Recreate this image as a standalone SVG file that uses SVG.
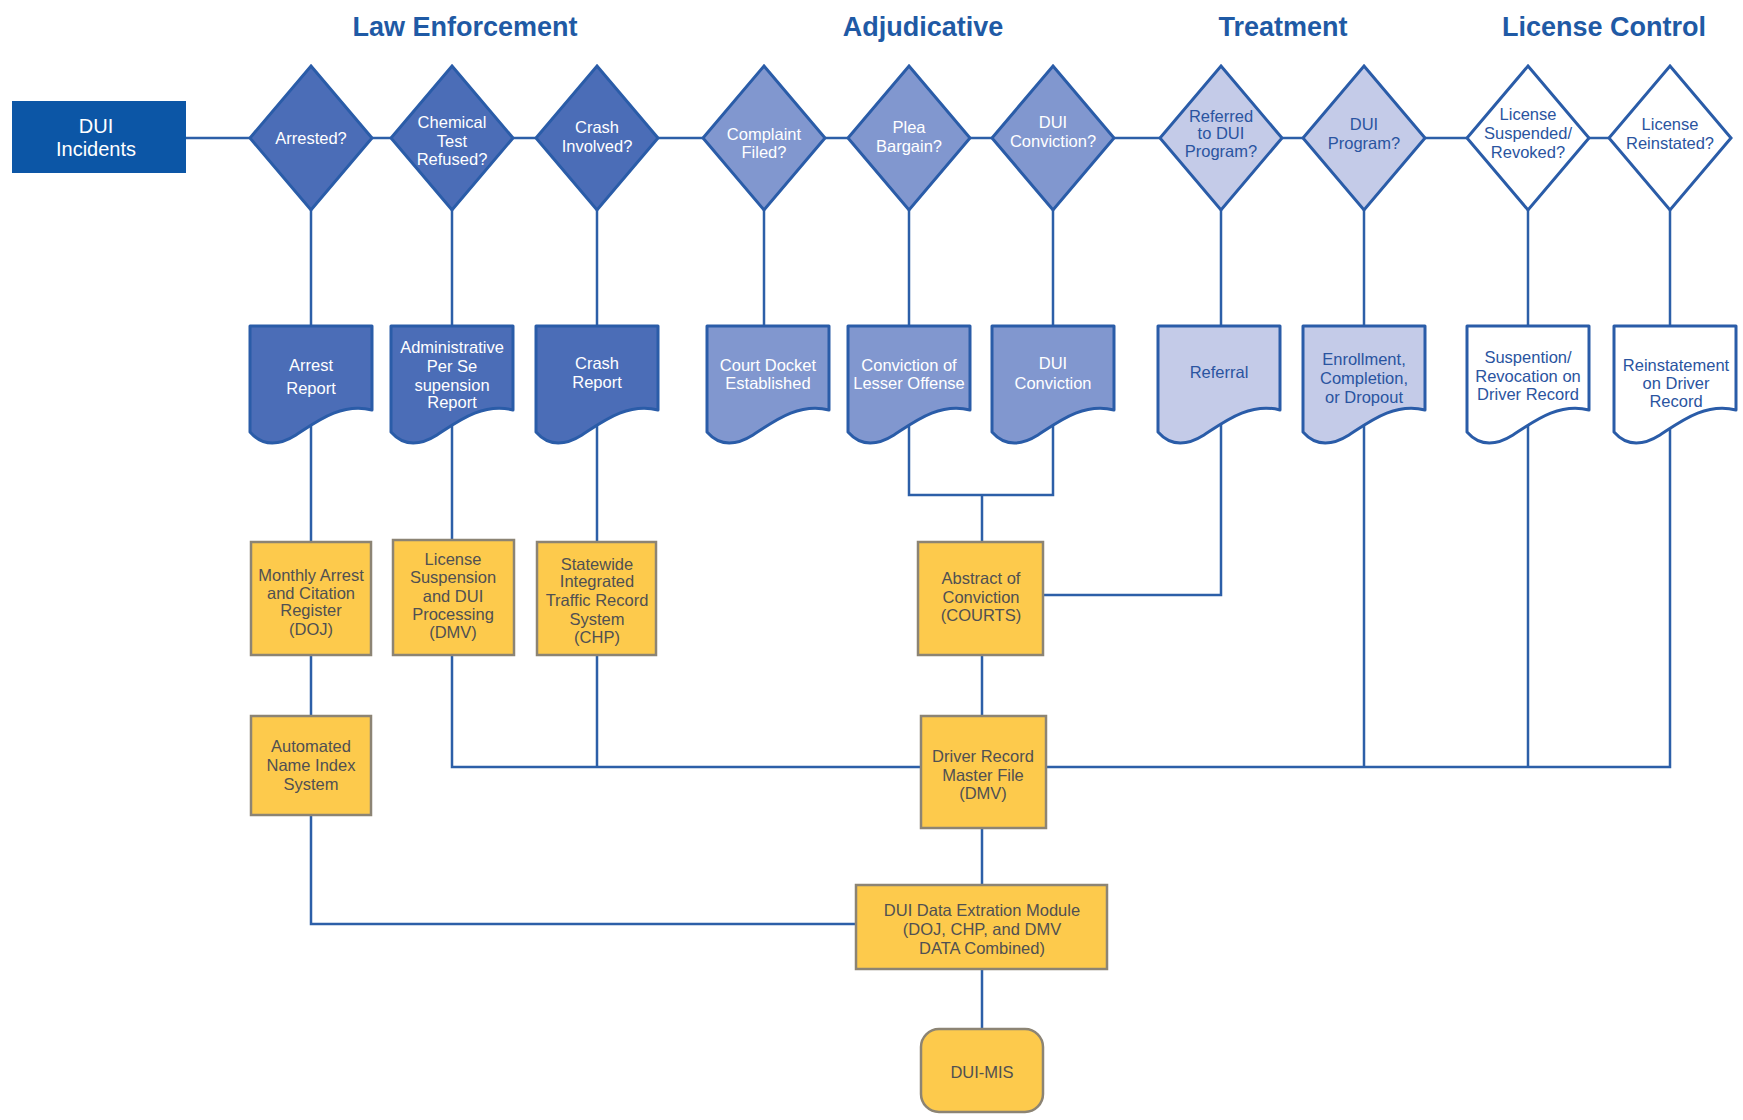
<svg xmlns="http://www.w3.org/2000/svg" width="1743" height="1120" viewBox="0 0 1743 1120">
<style>
.hdr{font-family:"Liberation Sans",Arial,sans-serif;font-weight:bold;font-size:27px;fill:#1f5aa5;text-anchor:middle}
.t{font-family:"Liberation Sans",Arial,sans-serif;font-size:16.5px;text-anchor:middle}
.w{fill:#ffffff}
.b{fill:#2a54a0}
.y{fill:#505052}
.dia{stroke:#2a5ca8;stroke-width:3}
.doc{stroke:#2a5ca8;stroke-width:3;stroke-linejoin:round}
.box{fill:#fdca4c;stroke:#8c8474;stroke-width:2.5}
.c1{fill:#4b6db7}
.c2{fill:#8197cf}
.c3{fill:#c4cbe8}
.c4{fill:#ffffff}
.conn{fill:none;stroke:#2c5fa8;stroke-width:2.5}
</style>
<defs>
<polygon id="dm" points="0,-72 61,0 0,72 -61,0"/>
<path id="dc" d="M0 0 H122 V84 C92 76 66 96 46 109 C30 119 14 122 0 106 Z"/>
</defs>
<rect width="1743" height="1120" fill="#ffffff"/>
<g id="headers">
<text class="hdr" x="465" y="36">Law Enforcement</text>
<text class="hdr" x="923" y="36">Adjudicative</text>
<text class="hdr" x="1283" y="36">Treatment</text>
<text class="hdr" x="1604" y="36">License Control</text>
</g>
<g id="connectors" class="conn">
<path d="M186 138 H1670"/>
<path d="M311 210 V326 M452 210 V326 M597 210 V326 M764 210 V326 M909 210 V326 M1053 210 V326 M1221 210 V326 M1364 210 V326 M1528 210 V326 M1670 210 V326"/>
<path d="M311 420 V542 M452 420 V540 M597 420 V542"/>
<path d="M909 420 V495 H1053 V420 M982 495 V542"/>
<path d="M1221 420 V595 H1043"/>
<path d="M1364 420 V767 M1528 420 V767 M1670 420 V767 H1046"/>
<path d="M921 767 H452 V655 M597 767 V655"/>
<path d="M311 655 V716 M311 815 V924 H856"/>
<path d="M982 655 V716 M982 828 V885 M982 969 V1029"/>
</g>
<g id="n-dui-incidents">
<rect x="12" y="101" width="174" height="72" fill="#0c56a6"/>
<text class="t w" x="96" y="133" style="font-size:20px">DUI</text>
<text class="t w" x="96" y="156" style="font-size:20px">Incidents</text>
</g>
<g id="n-arrested">
<use href="#dm" x="311" y="138" class="dia c1"/>
<text class="t w" x="311" y="144">Arrested?</text>
</g>
<g id="n-chemical">
<use href="#dm" x="452" y="138" class="dia c1"/>
<text class="t w" x="452" y="128">Chemical</text>
<text class="t w" x="452" y="147">Test</text>
<text class="t w" x="452" y="165">Refused?</text>
</g>
<g id="n-crash-involved">
<use href="#dm" x="597" y="138" class="dia c1"/>
<text class="t w" x="597" y="133">Crash</text>
<text class="t w" x="597" y="152">Involved?</text>
</g>
<g id="n-complaint">
<use href="#dm" x="764" y="138" class="dia c2"/>
<text class="t w" x="764" y="140">Complaint</text>
<text class="t w" x="764" y="158">Filed?</text>
</g>
<g id="n-plea">
<use href="#dm" x="909" y="138" class="dia c2"/>
<text class="t w" x="909" y="133">Plea</text>
<text class="t w" x="909" y="152">Bargain?</text>
</g>
<g id="n-dui-conviction-q">
<use href="#dm" x="1053" y="138" class="dia c2"/>
<text class="t w" x="1053" y="128">DUI</text>
<text class="t w" x="1053" y="147">Conviction?</text>
</g>
<g id="n-referred">
<use href="#dm" x="1221" y="138" class="dia c3"/>
<text class="t b" x="1221" y="122">Referred</text>
<text class="t b" x="1221" y="139">to DUI</text>
<text class="t b" x="1221" y="157">Program?</text>
</g>
<g id="n-dui-program">
<use href="#dm" x="1364" y="138" class="dia c3"/>
<text class="t b" x="1364" y="130">DUI</text>
<text class="t b" x="1364" y="149">Program?</text>
</g>
<g id="n-license-suspended">
<use href="#dm" x="1528" y="138" class="dia c4"/>
<text class="t b" x="1528" y="120">License</text>
<text class="t b" x="1528" y="139">Suspended/</text>
<text class="t b" x="1528" y="158">Revoked?</text>
</g>
<g id="n-license-reinstated">
<use href="#dm" x="1670" y="138" class="dia c4"/>
<text class="t b" x="1670" y="130">License</text>
<text class="t b" x="1670" y="149">Reinstated?</text>
</g>
<g id="n-arrest-report">
<use href="#dc" x="250" y="326" class="doc c1"/>
<text class="t w" x="311" y="371">Arrest</text>
<text class="t w" x="311" y="394">Report</text>
</g>
<g id="n-admin-per-se">
<use href="#dc" x="391" y="326" class="doc c1"/>
<text class="t w" x="452" y="353">Administrative</text>
<text class="t w" x="452" y="372">Per Se</text>
<text class="t w" x="452" y="391">supension</text>
<text class="t w" x="452" y="408">Report</text>
</g>
<g id="n-crash-report">
<use href="#dc" x="536" y="326" class="doc c1"/>
<text class="t w" x="597" y="369">Crash</text>
<text class="t w" x="597" y="388">Report</text>
</g>
<g id="n-court-docket">
<use href="#dc" x="707" y="326" class="doc c2"/>
<text class="t w" x="768" y="371">Court Docket</text>
<text class="t w" x="768" y="389">Established</text>
</g>
<g id="n-lesser-offense">
<use href="#dc" x="848" y="326" class="doc c2"/>
<text class="t w" x="909" y="371">Conviction of</text>
<text class="t w" x="909" y="389">Lesser Offense</text>
</g>
<g id="n-dui-conviction">
<use href="#dc" x="992" y="326" class="doc c2"/>
<text class="t w" x="1053" y="369">DUI</text>
<text class="t w" x="1053" y="389">Conviction</text>
</g>
<g id="n-referral">
<use href="#dc" x="1158" y="326" class="doc c3"/>
<text class="t b" x="1219" y="378">Referral</text>
</g>
<g id="n-enrollment">
<use href="#dc" x="1303" y="326" class="doc c3"/>
<text class="t b" x="1364" y="365">Enrollment,</text>
<text class="t b" x="1364" y="384">Completion,</text>
<text class="t b" x="1364" y="403">or Dropout</text>
</g>
<g id="n-suspention">
<use href="#dc" x="1467" y="326" class="doc c4"/>
<text class="t b" x="1528" y="363">Suspention/</text>
<text class="t b" x="1528" y="382">Revocation on</text>
<text class="t b" x="1528" y="400">Driver Record</text>
</g>
<g id="n-reinstatement">
<use href="#dc" x="1614" y="326" class="doc c4"/>
<text class="t b" x="1676" y="371">Reinstatement</text>
<text class="t b" x="1676" y="389">on Driver</text>
<text class="t b" x="1676" y="407">Record</text>
</g>
<g id="n-monthly-arrest">
<rect class="box" x="251" y="542" width="120" height="113"/>
<text class="t y" x="311" y="581">Monthly Arrest</text>
<text class="t y" x="311" y="599">and Citation</text>
<text class="t y" x="311" y="616">Register</text>
<text class="t y" x="311" y="635">(DOJ)</text>
</g>
<g id="n-license-suspension">
<rect class="box" x="393" y="540" width="121" height="115"/>
<text class="t y" x="453" y="565">License</text>
<text class="t y" x="453" y="583">Suspension</text>
<text class="t y" x="453" y="602">and DUI</text>
<text class="t y" x="453" y="620">Processing</text>
<text class="t y" x="453" y="638">(DMV)</text>
</g>
<g id="n-statewide">
<rect class="box" x="537" y="542" width="119" height="113"/>
<text class="t y" x="597" y="570">Statewide</text>
<text class="t y" x="597" y="587">Integrated</text>
<text class="t y" x="597" y="606">Traffic Record</text>
<text class="t y" x="597" y="625">System</text>
<text class="t y" x="597" y="643">(CHP)</text>
</g>
<g id="n-abstract">
<rect class="box" x="918" y="542" width="125" height="113"/>
<text class="t y" x="981" y="584">Abstract of</text>
<text class="t y" x="981" y="603">Conviction</text>
<text class="t y" x="981" y="621">(COURTS)</text>
</g>
<g id="n-automated-name">
<rect class="box" x="251" y="716" width="120" height="99"/>
<text class="t y" x="311" y="752">Automated</text>
<text class="t y" x="311" y="771">Name Index</text>
<text class="t y" x="311" y="790">System</text>
</g>
<g id="n-driver-record">
<rect class="box" x="921" y="716" width="125" height="112"/>
<text class="t y" x="983" y="762">Driver Record</text>
<text class="t y" x="983" y="781">Master File</text>
<text class="t y" x="983" y="799">(DMV)</text>
</g>
<g id="n-dui-data">
<rect class="box" x="856" y="885" width="251" height="84"/>
<text class="t y" x="982" y="916">DUI Data Extration Module</text>
<text class="t y" x="982" y="935">(DOJ, CHP, and DMV</text>
<text class="t y" x="982" y="954">DATA Combined)</text>
</g>
<g id="n-dui-mis">
<rect class="box" x="921" y="1029" width="122" height="83" rx="18"/>
<text class="t y" x="982" y="1078">DUI-MIS</text>
</g>
</svg>
